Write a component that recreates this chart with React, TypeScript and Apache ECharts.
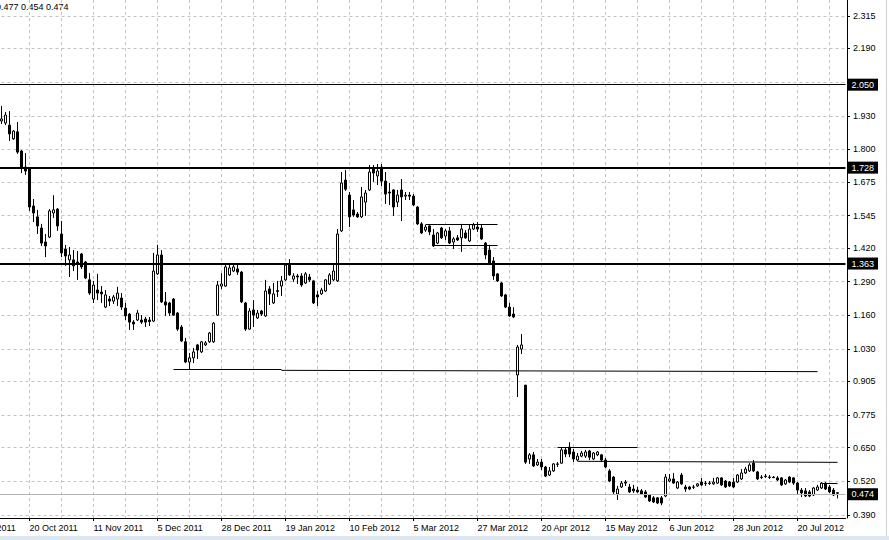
import React, { useEffect, useRef } from "react";
import * as echarts from "echarts";

// Date labels shown on the time axis, one every 16 daily bars
const DATE_LABELS = [
  "28 Sep 2011", "20 Oct 2011", "11 Nov 2011", "5 Dec 2011", "28 Dec 2011",
  "19 Jan 2012", "10 Feb 2012", "5 Mar 2012", "27 Mar 2012", "20 Apr 2012",
  "15 May 2012", "6 Jun 2012", "28 Jun 2012", "20 Jul 2012",
];
const BARS_PER_LABEL = 16;
const BARS_PER_GRID = 8;
const LEAD_BARS = 9; // bars between the first date label and the first visible candle
const TRAIL_BARS = 2; // empty shift space at the right

// Price axis tick labels
const Y_TICKS = [2.315, 2.19, 2.06, 1.93, 1.8, 1.675, 1.545, 1.42, 1.29, 1.16, 1.03, 0.905, 0.775, 0.65, 0.52, 0.39];
const Y_MIN = 0.3783;
const Y_MAX = 2.3767;

// Horizontal price levels and last price
const LEVELS = [2.05, 1.728, 1.363];
const LAST_PRICE = 0.474;
const HEADER_VALUES = [0.477, 0.454, 0.474];

// Trend lines: [startBar, startValue, endBar, endValue] (bar = index of visible candle)
const TREND_LINES = [
  [43, 0.952, 70, 0.952],
  [70, 0.948, 204, 0.943],
  [106, 1.5125, 124, 1.5125],
  [108, 1.43, 124, 1.43],
  [139, 0.652, 159, 0.652],
  [144, 0.597, 209, 0.593],
  [205, 0.512, 209, 0.512],
];

// Daily candles: [open, high, low, close]
const OHLC = [
  [1.910, 1.968, 1.898, 1.918], [1.902, 1.945, 1.894, 1.933], [1.894, 1.948, 1.833, 1.860], [1.841, 1.875, 1.837, 1.871],
  [1.868, 1.906, 1.783, 1.790], [1.794, 1.798, 1.709, 1.729], [1.732, 1.786, 1.702, 1.717], [1.725, 1.729, 1.563, 1.578],
  [1.582, 1.609, 1.520, 1.555], [1.540, 1.567, 1.474, 1.505], [1.497, 1.513, 1.428, 1.439], [1.443, 1.474, 1.385, 1.428],
  [1.462, 1.570, 1.459, 1.563], [1.555, 1.624, 1.536, 1.567], [1.570, 1.574, 1.486, 1.505], [1.474, 1.524, 1.385, 1.401],
  [1.416, 1.432, 1.351, 1.389], [1.374, 1.424, 1.308, 1.393], [1.374, 1.412, 1.331, 1.351], [1.366, 1.408, 1.297, 1.358],
  [1.397, 1.401, 1.339, 1.347], [1.366, 1.370, 1.300, 1.304], [1.297, 1.323, 1.239, 1.246], [1.223, 1.293, 1.208, 1.277],
  [1.258, 1.320, 1.219, 1.246], [1.250, 1.273, 1.208, 1.243], [1.192, 1.258, 1.188, 1.239], [1.223, 1.235, 1.196, 1.215],
  [1.215, 1.239, 1.204, 1.231], [1.223, 1.270, 1.196, 1.246], [1.227, 1.246, 1.181, 1.192], [1.188, 1.208, 1.142, 1.158],
  [1.165, 1.169, 1.104, 1.134], [1.134, 1.142, 1.104, 1.127], [1.142, 1.181, 1.138, 1.169], [1.142, 1.161, 1.127, 1.134],
  [1.146, 1.154, 1.115, 1.134], [1.142, 1.154, 1.119, 1.136], [1.138, 1.401, 1.134, 1.331], [1.320, 1.432, 1.316, 1.393],
  [1.393, 1.412, 1.208, 1.212], [1.212, 1.250, 1.158, 1.200], [1.208, 1.212, 1.158, 1.169], [1.223, 1.227, 1.158, 1.161],
  [1.169, 1.173, 1.100, 1.107], [1.115, 1.123, 1.058, 1.061], [1.058, 1.073, 0.976, 0.980], [0.980, 1.015, 0.953, 0.996],
  [0.996, 1.034, 0.976, 1.019], [1.046, 1.050, 0.992, 1.026], [1.019, 1.061, 1.015, 1.058], [1.046, 1.061, 1.042, 1.054],
  [1.058, 1.096, 1.054, 1.092], [1.058, 1.134, 1.054, 1.130], [1.161, 1.293, 1.158, 1.277], [1.273, 1.323, 1.262, 1.281],
  [1.273, 1.354, 1.270, 1.347], [1.316, 1.358, 1.312, 1.343], [1.331, 1.358, 1.327, 1.347], [1.339, 1.358, 1.316, 1.327],
  [1.327, 1.331, 1.208, 1.212], [1.208, 1.212, 1.100, 1.107], [1.107, 1.188, 1.104, 1.177], [1.181, 1.219, 1.115, 1.161],
  [1.150, 1.181, 1.146, 1.169], [1.177, 1.181, 1.158, 1.165], [1.158, 1.297, 1.154, 1.254], [1.262, 1.273, 1.200, 1.243],
  [1.208, 1.285, 1.204, 1.243], [1.252, 1.293, 1.231, 1.256], [1.273, 1.312, 1.235, 1.293], [1.297, 1.362, 1.293, 1.354],
  [1.354, 1.377, 1.312, 1.316], [1.300, 1.323, 1.289, 1.312], [1.312, 1.320, 1.281, 1.308], [1.312, 1.323, 1.270, 1.277],
  [1.285, 1.327, 1.281, 1.320], [1.308, 1.320, 1.289, 1.297], [1.293, 1.297, 1.204, 1.208], [1.239, 1.254, 1.196, 1.231],
  [1.243, 1.266, 1.239, 1.258], [1.254, 1.300, 1.250, 1.297], [1.281, 1.323, 1.277, 1.316], [1.297, 1.354, 1.293, 1.331],
  [1.293, 1.493, 1.289, 1.474], [1.486, 1.713, 1.482, 1.671], [1.682, 1.721, 1.640, 1.647], [1.624, 1.636, 1.501, 1.540],
  [1.567, 1.605, 1.540, 1.547], [1.551, 1.559, 1.536, 1.540], [1.540, 1.655, 1.536, 1.617], [1.597, 1.644, 1.544, 1.632],
  [1.644, 1.740, 1.640, 1.713], [1.725, 1.740, 1.675, 1.709], [1.698, 1.744, 1.663, 1.717], [1.732, 1.744, 1.659, 1.678],
  [1.678, 1.713, 1.590, 1.628], [1.636, 1.671, 1.586, 1.632], [1.644, 1.647, 1.544, 1.578], [1.597, 1.644, 1.578, 1.624],
  [1.644, 1.686, 1.524, 1.617], [1.620, 1.636, 1.605, 1.624], [1.624, 1.636, 1.605, 1.620], [1.620, 1.628, 1.582, 1.586],
  [1.578, 1.582, 1.509, 1.513], [1.513, 1.520, 1.474, 1.478], [1.489, 1.509, 1.482, 1.501], [1.505, 1.509, 1.470, 1.482],
  [1.470, 1.493, 1.424, 1.428], [1.439, 1.482, 1.435, 1.478], [1.497, 1.501, 1.455, 1.459], [1.466, 1.493, 1.451, 1.486],
  [1.486, 1.501, 1.435, 1.439], [1.443, 1.462, 1.416, 1.455], [1.459, 1.470, 1.447, 1.451], [1.459, 1.513, 1.405, 1.493],
  [1.478, 1.489, 1.455, 1.459], [1.447, 1.509, 1.443, 1.493], [1.493, 1.517, 1.489, 1.509], [1.501, 1.520, 1.482, 1.493],
  [1.497, 1.509, 1.451, 1.455], [1.439, 1.443, 1.377, 1.393], [1.412, 1.432, 1.358, 1.362], [1.370, 1.385, 1.297, 1.312],
  [1.320, 1.323, 1.289, 1.293], [1.285, 1.289, 1.231, 1.235], [1.239, 1.243, 1.188, 1.192], [1.192, 1.208, 1.154, 1.158],
  [1.165, 1.192, 1.150, 1.154], [0.930, 1.046, 0.845, 1.038], [1.030, 1.088, 1.011, 1.046], [0.891, 0.891, 0.587, 0.594],
  [0.606, 0.629, 0.587, 0.622], [0.622, 0.633, 0.575, 0.579], [0.583, 0.606, 0.579, 0.594], [0.594, 0.606, 0.563, 0.575],
  [0.575, 0.579, 0.536, 0.540], [0.544, 0.575, 0.540, 0.560], [0.560, 0.590, 0.556, 0.587], [0.585, 0.594, 0.575, 0.587],
  [0.590, 0.652, 0.587, 0.641], [0.641, 0.652, 0.613, 0.625], [0.652, 0.671, 0.613, 0.625], [0.633, 0.645, 0.594, 0.606],
  [0.602, 0.629, 0.598, 0.617], [0.617, 0.637, 0.613, 0.629], [0.617, 0.641, 0.610, 0.633], [0.637, 0.641, 0.602, 0.613],
  [0.606, 0.633, 0.602, 0.629], [0.622, 0.637, 0.617, 0.633], [0.622, 0.625, 0.594, 0.602], [0.602, 0.610, 0.571, 0.575],
  [0.560, 0.567, 0.517, 0.521], [0.536, 0.540, 0.471, 0.479], [0.471, 0.502, 0.448, 0.490], [0.498, 0.521, 0.494, 0.513],
  [0.517, 0.525, 0.502, 0.513], [0.498, 0.510, 0.475, 0.479], [0.490, 0.506, 0.475, 0.483], [0.486, 0.498, 0.475, 0.479],
  [0.483, 0.490, 0.467, 0.471], [0.479, 0.486, 0.456, 0.459], [0.467, 0.471, 0.440, 0.444], [0.456, 0.463, 0.436, 0.440],
  [0.456, 0.459, 0.432, 0.436], [0.456, 0.463, 0.428, 0.436], [0.463, 0.548, 0.459, 0.536], [0.521, 0.548, 0.517, 0.529],
  [0.529, 0.552, 0.510, 0.513], [0.494, 0.521, 0.490, 0.517], [0.544, 0.552, 0.506, 0.510], [0.498, 0.506, 0.479, 0.490],
  [0.498, 0.502, 0.486, 0.490], [0.498, 0.506, 0.490, 0.497], [0.502, 0.513, 0.498, 0.510], [0.517, 0.533, 0.502, 0.506],
  [0.511, 0.521, 0.502, 0.513], [0.513, 0.521, 0.506, 0.512], [0.510, 0.533, 0.506, 0.517], [0.513, 0.536, 0.510, 0.533],
  [0.533, 0.536, 0.502, 0.506], [0.521, 0.525, 0.494, 0.498], [0.517, 0.521, 0.498, 0.502], [0.517, 0.533, 0.494, 0.498],
  [0.517, 0.548, 0.513, 0.544], [0.529, 0.567, 0.525, 0.552], [0.552, 0.575, 0.548, 0.567], [0.560, 0.590, 0.556, 0.583],
  [0.590, 0.602, 0.556, 0.560], [0.556, 0.560, 0.525, 0.529], [0.536, 0.544, 0.529, 0.535], [0.538, 0.548, 0.533, 0.540],
  [0.536, 0.544, 0.529, 0.535], [0.536, 0.540, 0.533, 0.534], [0.533, 0.540, 0.521, 0.525], [0.533, 0.536, 0.502, 0.506],
  [0.510, 0.529, 0.506, 0.525], [0.536, 0.540, 0.513, 0.517], [0.533, 0.536, 0.506, 0.513], [0.513, 0.517, 0.467, 0.486],
  [0.486, 0.494, 0.459, 0.475], [0.483, 0.494, 0.459, 0.463], [0.479, 0.486, 0.459, 0.463], [0.467, 0.498, 0.463, 0.494],
  [0.486, 0.506, 0.483, 0.498], [0.494, 0.517, 0.490, 0.513], [0.513, 0.517, 0.486, 0.490], [0.498, 0.506, 0.475, 0.479],
  [0.486, 0.494, 0.463, 0.467], [0.476, 0.477, 0.454, 0.474],
];

const FONT = "'Liberation Sans', Arial, sans-serif";

export default function App() {
  const ref = useRef<HTMLDivElement>(null);

  useEffect(() => {
    if (!ref.current) return;
    const chart = echarts.init(ref.current, undefined, { renderer: "svg" });

    const total = LEAD_BARS + OHLC.length + TRAIL_BARS;
    const categories = Array.from({ length: total }, (_, k) => String(k));
    const candleData: any[] = [
      ...Array(LEAD_BARS).fill("-"),
      ...OHLC.map(([o, h, l, c]) => [o, c, l, h]),
      ...Array(TRAIL_BARS).fill("-"),
    ];

    const priceLabel = (v: number) => ({
      show: true,
      position: "end",
      distance: 2,
      formatter: () => v.toFixed(3),
      backgroundColor: "#000",
      color: "#fff",
      fontSize: 9,
      fontFamily: FONT,
      padding: [2, 4, 1, 4],
    });

    const levelLines = LEVELS.map((v, idx) => ({
      yAxis: v,
      lineStyle: { color: "#000", width: idx === 0 ? 1 : 2, type: "solid" },
      label: priceLabel(v),
    }));

    const lastLine = {
      yAxis: LAST_PRICE,
      lineStyle: { color: "#b4b4b4", width: 1, type: "solid" },
      label: priceLabel(LAST_PRICE),
    };

    const trendLines = TREND_LINES.map(([b1, v1, b2, v2]) => [
      {
        coord: [b1 + LEAD_BARS, v1],
        lineStyle: { color: "#000", width: 1, type: "solid" },
        label: { show: false },
      },
      { coord: [b2 + LEAD_BARS, v2] },
    ]);

    const gridLine = { color: "#c4c4c4", width: 1, type: [3, 3] };

    chart.setOption({
      animation: false,
      backgroundColor: "#fff",
      textStyle: { fontFamily: FONT },
      grid: {
        left: -34.5,
        right: 43.5,
        top: 0,
        bottom: 22,
        containLabel: false,
        outerBoundsMode: "none",
      },
      xAxis: {
        type: "category",
        data: categories,
        boundaryGap: false,
        axisLine: { show: true, lineStyle: { color: "#000", width: 1 } },
        axisTick: { show: true, interval: BARS_PER_LABEL - 1, length: 3, lineStyle: { color: "#000" } },
        axisLabel: {
          interval: BARS_PER_LABEL - 1,
          formatter: (_v: string, idx: number) => DATE_LABELS[idx / BARS_PER_LABEL] ?? "",
          align: "left",
          margin: 5,
          fontSize: 9,
          color: "#000",
          fontFamily: FONT,
          hideOverlap: false,
        },
        splitLine: { show: true, interval: BARS_PER_GRID - 1, lineStyle: gridLine },
      },
      yAxis: {
        type: "value",
        position: "right",
        min: Y_MIN,
        max: Y_MAX,
        offset: 1.5,
        scale: true,
        axisLine: { show: true, lineStyle: { color: "#000", width: 1 } },
        axisTick: { show: true, customValues: Y_TICKS, length: 3, inside: false, lineStyle: { color: "#000" } },
        axisLabel: {
          customValues: Y_TICKS,
          formatter: (v: number) => v.toFixed(3),
          margin: 6,
          fontSize: 9,
          color: "#000",
          fontFamily: FONT,
        },
        splitLine: { show: true, lineStyle: gridLine },
      },
      series: [
        {
          type: "candlestick",
          data: candleData,
          barWidth: 2,
          itemStyle: {
            color: "#fff",
            color0: "#000",
            borderColor: "#000",
            borderColor0: "#000",
            borderColorDoji: "#000",
            borderWidth: 1,
          },
          markLine: {
            silent: true,
            symbol: ["none", "none"],
            animation: false,
            data: [...levelLines, lastLine, ...trendLines],
          },
        },
      ],
      graphic: [
        {
          type: "text",
          x: -4,
          y: 2,
          silent: true,
          style: {
            text: HEADER_VALUES.map((v) => v.toFixed(3)).join(" "),
            fontSize: 9,
            fontFamily: FONT,
            fill: "#000",
          },
        },
        {
          type: "rect",
          silent: true,
          shape: { x: 0, y: 536, width: 889, height: 4 },
          style: { fill: "#dde7f2" },
        },
        {
          type: "line",
          silent: true,
          shape: { x1: 886.5, y1: 0, x2: 886.5, y2: 536 },
          style: { stroke: "#d0d0d0", lineWidth: 1 },
        },
      ],
    });

    return () => chart.dispose();
  }, []);

  return (
    <div
      ref={ref}
      style={{ position: "fixed", left: 0, top: 0, width: 889, height: 540, background: "#fff" }}
    />
  );
}
